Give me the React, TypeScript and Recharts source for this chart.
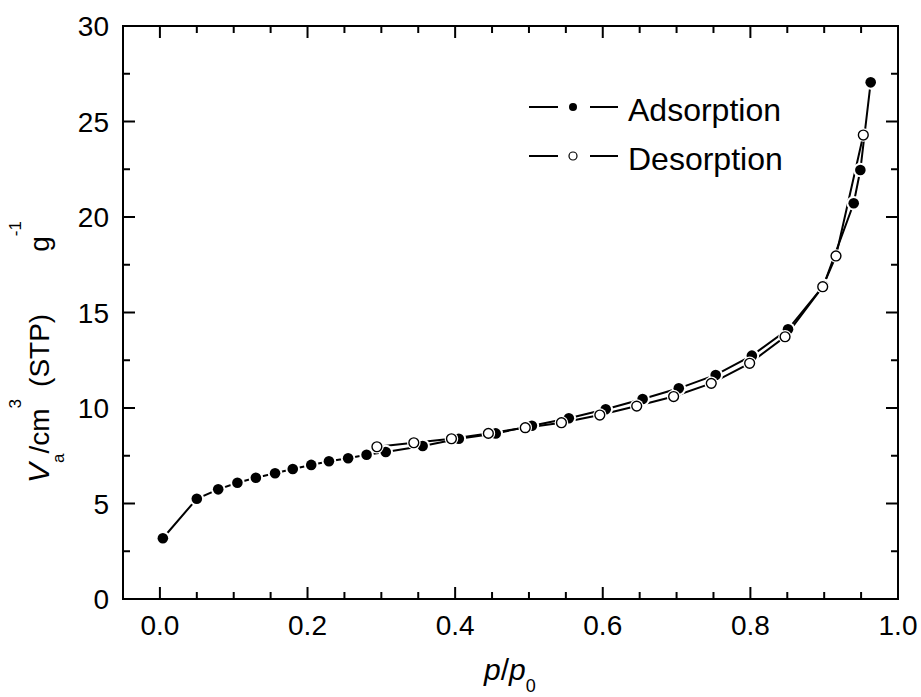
import React from 'react';
import { LineChart, Line, XAxis, YAxis, Legend } from 'recharts';

// ---- data ----
const adsX = [0.004, 0.05, 0.079, 0.105, 0.13, 0.156, 0.18, 0.205, 0.229, 0.255, 0.28, 0.306, 0.356, 0.405, 0.455, 0.504, 0.554, 0.604, 0.654, 0.703, 0.753, 0.802, 0.851, 0.899, 0.94, 0.949, 0.963];
const adsY = [3.18, 5.25, 5.74, 6.09, 6.35, 6.58, 6.81, 7.02, 7.21, 7.37, 7.55, 7.7, 8.01, 8.39, 8.67, 9.07, 9.46, 9.93, 10.47, 11.03, 11.73, 12.74, 14.12, 16.4, 20.72, 22.46, 27.05];
const desX = [0.953, 0.916, 0.898, 0.847, 0.799, 0.747, 0.696, 0.646, 0.596, 0.544, 0.495, 0.445, 0.395, 0.344, 0.294];
const desY = [24.29, 17.96, 16.35, 13.73, 12.34, 11.29, 10.6, 10.1, 9.63, 9.23, 8.97, 8.67, 8.39, 8.18, 7.97];

const X_TICKS = [0, 0.05, 0.1, 0.15, 0.2, 0.25, 0.3, 0.35, 0.4, 0.45, 0.5, 0.55, 0.6, 0.65, 0.7, 0.75, 0.8, 0.85, 0.9, 0.95, 1.0];
const X_MAJOR = [0, 0.2, 0.4, 0.6, 0.8, 1.0];
const X_LABELS = ['0.0', '0.2', '0.4', '0.6', '0.8', '1.0'];
const Y_TICKS = [0, 2.5, 5, 7.5, 10, 12.5, 15, 17.5, 20, 22.5, 25, 27.5, 30];
const Y_MAJOR = [0, 5, 10, 15, 20, 25, 30];
const Y_LABELS = ['0', '5', '10', '15', '20', '25', '30'];
const SERIES = ['Adsorption', 'Desorption'];

const adsData = adsX.map((x, i) => ({ x, y: adsY[i] }));
const desData = desX.map((x, i) => ({ x, y: desY[i] }));

// ---- layout ----
const W = 921;
const H = 697;
const L = 123;
const R = 898;
const T = 26;
const B = 599;
const AX_L = 60;
const AX_B = 40;
const AX_T = 10;
const AX_R = 10;
const FONT = 'Liberation Sans, Arial, sans-serif';
const MAJ = 12;
const MIN = 7;

const majorIndex = (arr: number[], v: number) => arr.findIndex((m) => Math.abs(m - v) < 1e-9);

const XTickBottom = (props: any) => {
  const { x, payload } = props;
  const i = majorIndex(X_MAJOR, payload.value);
  const len = i >= 0 ? MAJ : MIN;
  return (
    <g>
      <line x1={x} y1={B} x2={x} y2={B - len} stroke="#000" strokeWidth={2} />
      {i >= 0 && (
        <text x={x} y={635} textAnchor="middle" fontSize={28} fill="#000" fontFamily={FONT}>
          {X_LABELS[i]}
        </text>
      )}
    </g>
  );
};

const XTickTop = (props: any) => {
  const { x, payload } = props;
  const i = majorIndex(X_MAJOR, payload.value);
  const len = i >= 0 ? MAJ : MIN;
  return <line x1={x} y1={T} x2={x} y2={T + len} stroke="#000" strokeWidth={2} />;
};

const YTickLeft = (props: any) => {
  const { y, payload } = props;
  const i = majorIndex(Y_MAJOR, payload.value);
  const len = i >= 0 ? MAJ : MIN;
  return (
    <g>
      <line x1={L} y1={y} x2={L + len} y2={y} stroke="#000" strokeWidth={2} />
      {i >= 0 && (
        <text x={109} y={y + 10} textAnchor="end" fontSize={28} fill="#000" fontFamily={FONT}>
          {Y_LABELS[i]}
        </text>
      )}
    </g>
  );
};

const YTickRight = (props: any) => {
  const { y, payload } = props;
  const i = majorIndex(Y_MAJOR, payload.value);
  const len = i >= 0 ? MAJ : MIN;
  return <line x1={R} y1={y} x2={R - len} y2={y} stroke="#000" strokeWidth={2} />;
};

const FilledDot = (props: any) => {
  const { cx, cy, index } = props;
  return (
    <g key={`a${index}`}>
      <circle cx={cx} cy={cy} r={7.3} fill="#fff" />
      <circle cx={cx} cy={cy} r={5.3} fill="#000" />
    </g>
  );
};

const OpenDot = (props: any) => {
  const { cx, cy, index } = props;
  return (
    <g key={`d${index}`}>
      <circle cx={cx} cy={cy} r={6.8} fill="#fff" />
      <circle cx={cx} cy={cy} r={4.9} fill="#fff" stroke="#000" strokeWidth={1.4} />
    </g>
  );
};

const YLabel = () => (
  <text x={49} y={483} transform="rotate(-90 49 483)" fontSize={28} fill="#000" fontFamily={FONT}>
    <tspan fontStyle="italic" fontSize={30}>V</tspan>
    <tspan fontSize={17} dy={15}>a</tspan>
    <tspan dy={-15}>/cm</tspan>
    <tspan fontSize={17} dy={-28}>3</tspan>
    <tspan dy={28} dx={12}>(STP)</tspan>
    <tspan dx={62}>g</tspan>
    <tspan fontSize={17} dy={-28}>-1</tspan>
  </text>
);

const XLabel = () => (
  <text x={484} y={680} fontSize={30} fill="#000" fontFamily={FONT}>
    <tspan fontStyle="italic">p</tspan>
    <tspan>/</tspan>
    <tspan fontStyle="italic">p</tspan>
    <tspan fontSize={18} dy={12}>0</tspan>
  </text>
);

const LegendContent = () => (
  <svg width={320} height={110} style={{ overflow: 'visible' }}>
    {SERIES.map((name, i) => {
      const ly = 27 + i * 49;
      return (
        <g key={name}>
          <line x1={9} y1={ly} x2={38} y2={ly} stroke="#000" strokeWidth={2} />
          {i === 0 ? (
            <circle cx={53} cy={ly} r={4} fill="#000" />
          ) : (
            <circle cx={53} cy={ly} r={4} fill="#fff" stroke="#000" strokeWidth={1.2} />
          )}
          <line x1={70} y1={ly} x2={98} y2={ly} stroke="#000" strokeWidth={2} />
          <text x={108} y={ly + 14} fontSize={32} fill="#000" fontFamily={FONT}>
            {name}
          </text>
        </g>
      );
    })}
  </svg>
);

const axisLine = { stroke: '#000', strokeWidth: 2, strokeLinecap: 'square' as const };

export default function App() {
  return (
    <div style={{ position: 'absolute', left: 0, top: 0, width: W, height: H, background: '#fff', fontFamily: FONT }}>
      <LineChart
        width={W}
        height={H}
        margin={{ top: T - AX_T, right: W - R - AX_R, bottom: H - B - AX_B, left: L - AX_L }}
      >
        <XAxis
          dataKey="x"
          type="number"
          domain={[-0.05, 1.0]}
          allowDataOverflow
          ticks={X_TICKS}
          interval={0}
          height={AX_B}
          tickSize={0}
          tickLine={false}
          axisLine={axisLine}
          tick={XTickBottom}
          label={() => <XLabel />}
        />
        <XAxis
          xAxisId="top"
          orientation="top"
          dataKey="x"
          type="number"
          domain={[-0.05, 1.0]}
          allowDataOverflow
          ticks={X_TICKS}
          interval={0}
          height={AX_T}
          tickSize={0}
          tickLine={false}
          axisLine={axisLine}
          tick={XTickTop}
        />
        <YAxis
          type="number"
          domain={[0, 30]}
          allowDataOverflow
          ticks={Y_TICKS}
          interval={0}
          width={AX_L}
          tickSize={0}
          tickLine={false}
          axisLine={axisLine}
          tick={YTickLeft}
          label={() => <YLabel />}
        />
        <YAxis
          yAxisId="right"
          orientation="right"
          type="number"
          domain={[0, 30]}
          allowDataOverflow
          ticks={Y_TICKS}
          interval={0}
          width={AX_R}
          tickSize={0}
          tickLine={false}
          axisLine={axisLine}
          tick={YTickRight}
        />
        <Legend
          layout="vertical"
          align="center"
          verticalAlign="middle"
          wrapperStyle={{ position: 'absolute', left: 520, top: 80, width: 320, height: 110 }}
          content={() => <LegendContent />}
        />
        <Line
          data={adsData}
          dataKey="y"
          name={SERIES[0]}
          type="linear"
          stroke="#000"
          strokeWidth={2}
          dot={FilledDot}
          activeDot={false}
          isAnimationActive={false}
        />
        <Line
          data={desData}
          dataKey="y"
          name={SERIES[1]}
          type="linear"
          stroke="#000"
          strokeWidth={2}
          dot={OpenDot}
          activeDot={false}
          isAnimationActive={false}
        />
      </LineChart>
    </div>
  );
}
